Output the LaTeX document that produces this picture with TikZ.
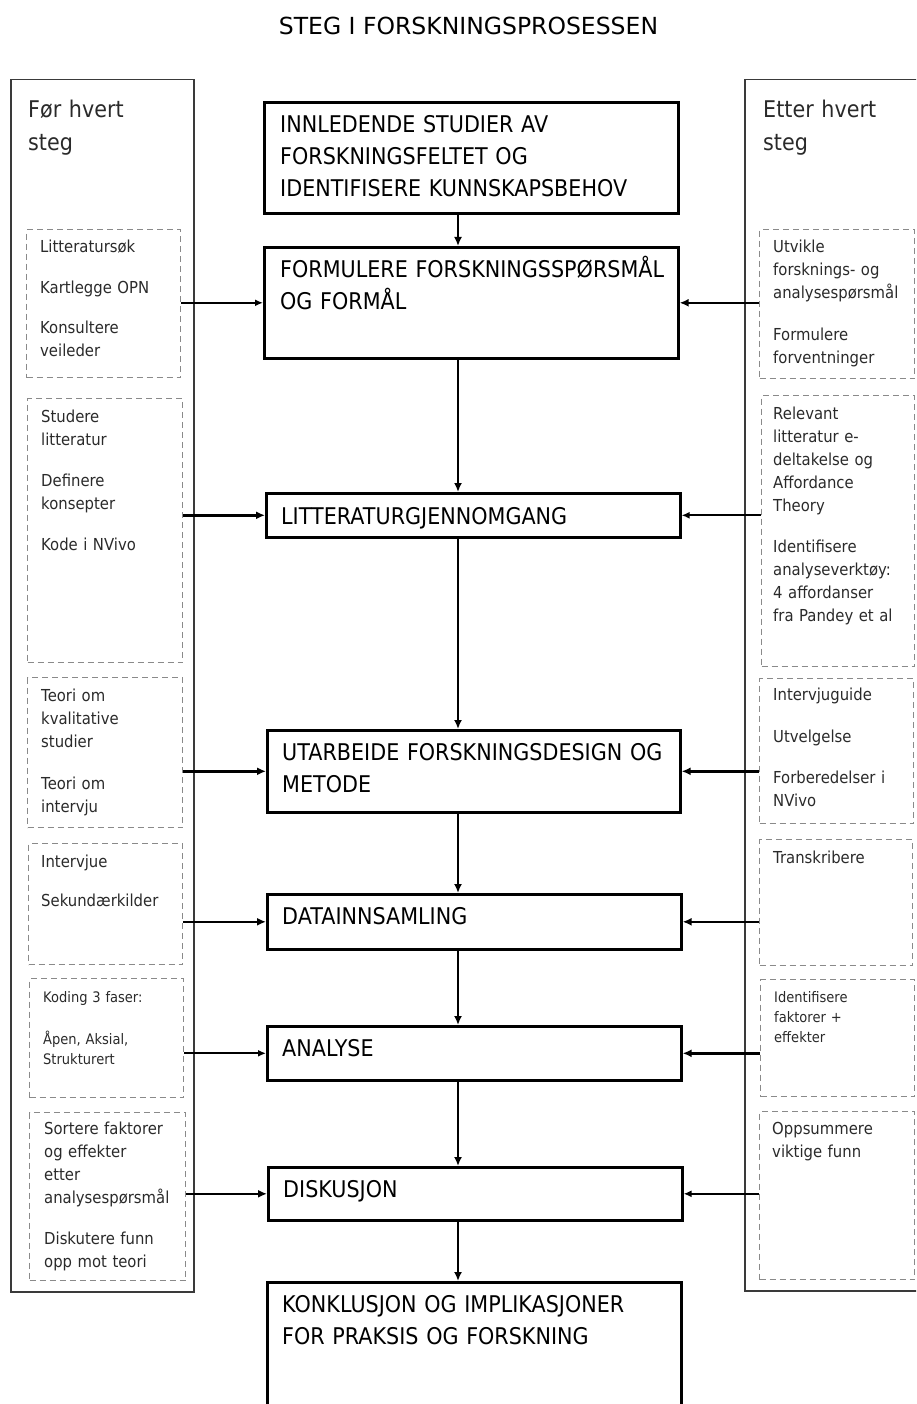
\documentclass[tikz,border=0pt]{standalone}
\usepackage{fontspec}
\setmainfont{DejaVu Sans}[FakeStretch=0.9]
\newfontfamily\titlefont{DejaVu Sans}
\usetikzlibrary{arrows.meta}
\definecolor{dgray}{HTML}{8A8A8A}
\definecolor{tgray}{HTML}{2A2A2A}
\definecolor{ogray}{HTML}{3A3A3A}
\begin{document}
\begin{tikzpicture}[x=1pt,y=-1pt,
  mainbox/.style={draw=black, line width=2.6pt, inner sep=0pt, anchor=north west},
  dbox/.style={draw=dgray, line width=1.3pt, dash pattern=on 6pt off 4pt, inner sep=0pt, anchor=north west},
  outerbox/.style={draw=ogray, line width=1.5pt, inner sep=0pt, anchor=north west},
  ctext/.style={anchor=base west, inner sep=0pt, text width=400pt, align=left, font=\fontsize{23}{32}\selectfont},
  htext/.style={anchor=base west, inner sep=0pt, text width=160pt, align=left, text=tgray, font=\fontsize{23}{33}\selectfont},
  stext/.style={anchor=base west, inner sep=0pt, text width=150pt, align=left, text=tgray, font=\fontsize{16.5}{23}\selectfont},
  smtext/.style={stext, font=\fontsize{14.5}{20}\selectfont},
  arr/.style={line width=2.4pt, -{Latex[length=9pt,width=8pt]}},
  tharr/.style={line width=1.8pt, -{Latex[length=8pt,width=7pt]}}
]
\useasboundingbox (0,0) rectangle (916,1404);
\clip (0,0) rectangle (916,1404);

% title
\node[anchor=base, inner sep=0pt, font=\titlefont\fontsize{23.5}{28}\selectfont] (title) at (468.5,35) {STEG I FORSKNINGSPROSESSEN};

% outer boxes
\node[outerbox, minimum width=183pt, minimum height=1212pt] (LO) at (10,79) {};
\node[outerbox, minimum width=190pt, minimum height=1211pt] (RO) at (744,79) {};
\node[htext] (LOt) at (28,118) {Før hvert\\steg};
\node[htext] (ROt) at (763,118) {Etter hvert\\steg};

% central boxes
\node[mainbox, minimum width=414pt, minimum height=111pt] (b1) at (263,101) {};
\node[mainbox, minimum width=414pt, minimum height=111pt] (b2) at (263,246) {};
\node[mainbox, minimum width=414pt, minimum height=44pt]  (b3) at (265,492) {};
\node[mainbox, minimum width=413pt, minimum height=82pt]  (b4) at (266,729) {};
\node[mainbox, minimum width=414pt, minimum height=55pt]  (b5) at (266,893) {};
\node[mainbox, minimum width=414pt, minimum height=54pt]  (b6) at (266,1025) {};
\node[mainbox, minimum width=414pt, minimum height=53pt]  (b7) at (267,1166) {};
\node[mainbox, minimum width=414pt, minimum height=150pt] (b8) at (266,1281) {};

\node[ctext] (t1) at (280,133) {INNLEDENDE STUDIER AV\\FORSKNINGSFELTET OG\\IDENTIFISERE KUNNSKAPSBEHOV};
\node[ctext] (t2) at (280,278) {FORMULERE FORSKNINGSSPØRSMÅL\\OG FORMÅL};
\node[ctext] (t3) at (281,524) {LITTERATURGJENNOMGANG};
\node[ctext] (t4) at (282,760) {UTARBEIDE FORSKNINGSDESIGN OG\\METODE};
\node[ctext] (t5) at (282,924) {DATAINNSAMLING};
\node[ctext] (t6) at (282,1056) {ANALYSE};
\node[ctext] (t7) at (283,1197) {DISKUSJON};
\node[ctext] (t8) at (282,1312) {KONKLUSJON OG IMPLIKASJONER\\FOR PRAKSIS OG FORSKNING};

% left dashed boxes
\node[dbox, minimum width=154pt, minimum height=148pt] (L1) at (26,229) {};
\node[dbox, minimum width=155pt, minimum height=264pt] (L2) at (27,398) {};
\node[dbox, minimum width=155pt, minimum height=150pt] (L3) at (27,677) {};
\node[dbox, minimum width=154pt, minimum height=121pt] (L4) at (28,843) {};
\node[dbox, minimum width=154pt, minimum height=119pt] (L5) at (29,978) {};
\node[dbox, minimum width=156pt, minimum height=168pt] (L6) at (29,1112) {};

\node[stext] (l1) at (40,253) {Litteratursøk\\[18pt]Kartlegge OPN\\[17pt]Konsultere\\veileder};
\node[stext] (l2) at (41,422) {Studere\\litteratur\\[18pt]Definere\\konsepter\\[18pt]Kode i NVivo};
\node[stext] (l3) at (41,701) {Teori om\\kvalitative\\studier\\[19pt]Teori om\\intervju};
\node[stext] (l4) at (41,867) {Intervjue\\[16pt]Sekundærkilder};
\node[smtext] (l5) at (43,1002) {Koding 3 faser:\\[22pt]Åpen, Aksial,\\Strukturert};
\node[stext] (l6) at (44,1134) {Sortere faktorer\\og effekter\\etter\\analysespørsmål\\[18pt]Diskutere funn\\opp mot teori};

% right dashed boxes
\node[dbox, minimum width=155pt, minimum height=149pt] (R1) at (759,229) {};
\node[dbox, minimum width=153pt, minimum height=271pt] (R2) at (761,395) {};
\node[dbox, minimum width=154pt, minimum height=145pt] (R3) at (759,678) {};
\node[dbox, minimum width=153pt, minimum height=126pt] (R4) at (759,839) {};
\node[dbox, minimum width=154pt, minimum height=117pt] (R5) at (760,979) {};
\node[dbox, minimum width=155pt, minimum height=168pt] (R6) at (759,1111) {};

\node[stext] (r1) at (773,253) {Utvikle\\forsknings- og\\analysespørsmål\\[19pt]Formulere\\forventninger};
\node[stext] (r2) at (773,419) {Relevant\\litteratur e-\\deltakelse og\\Affordance\\Theory\\[18pt]Identifisere\\analyseverktøy:\\4 affordanser\\fra Pandey et al};
\node[stext] (r3) at (773,700) {Intervjuguide\\[19pt]Utvelgelse\\[18pt]Forberedelser i\\NVivo};
\node[stext] (r4) at (773,863) {Transkribere};
\node[smtext] (r5) at (774,1002) {Identifisere\\faktorer +\\effekter};
\node[stext] (r6) at (772,1134) {Oppsummere\\viktige funn};

% vertical arrows
\coordinate (vx) at (458,0);
\draw[arr] (b1.south -| vx) -- (b2.north -| vx);
\draw[arr] (b2.south -| vx) -- (b3.north -| vx);
\draw[arr] (b3.south -| vx) -- (b4.north -| vx);
\draw[arr] (b4.south -| vx) -- (b5.north -| vx);
\draw[arr] (b5.south -| vx) -- (b6.north -| vx);
\draw[arr] (b6.south -| vx) -- (b7.north -| vx);
\draw[arr] (b7.south -| vx) -- (b8.north -| vx);

% left arrows
\draw[tharr] (L1.east |- b2.west) -- (b2.west);
\draw[arr] (L2.east |- b3.west) -- (b3.west);
\draw[arr] (L3.east |- b4.west) -- (b4.west);
\draw[arr] (L4.east |- b5.west) -- (b5.west);
\draw[tharr] (L5.east |- b6.west) -- (b6.west);
\draw[arr] (L6.east |- b7.west) -- (b7.west);

% right arrows
\draw[arr] (R1.west |- b2.east) -- (b2.east);
\draw[tharr] (R2.west |- b3.east) -- (b3.east);
\draw[arr] (R3.west |- b4.east) -- (b4.east);
\draw[arr] (R4.west |- b5.east) -- (b5.east);
\draw[arr] (R5.west |- b6.east) -- (b6.east);
\draw[tharr] (R6.west |- b7.east) -- (b7.east);
\end{tikzpicture}
\end{document}
